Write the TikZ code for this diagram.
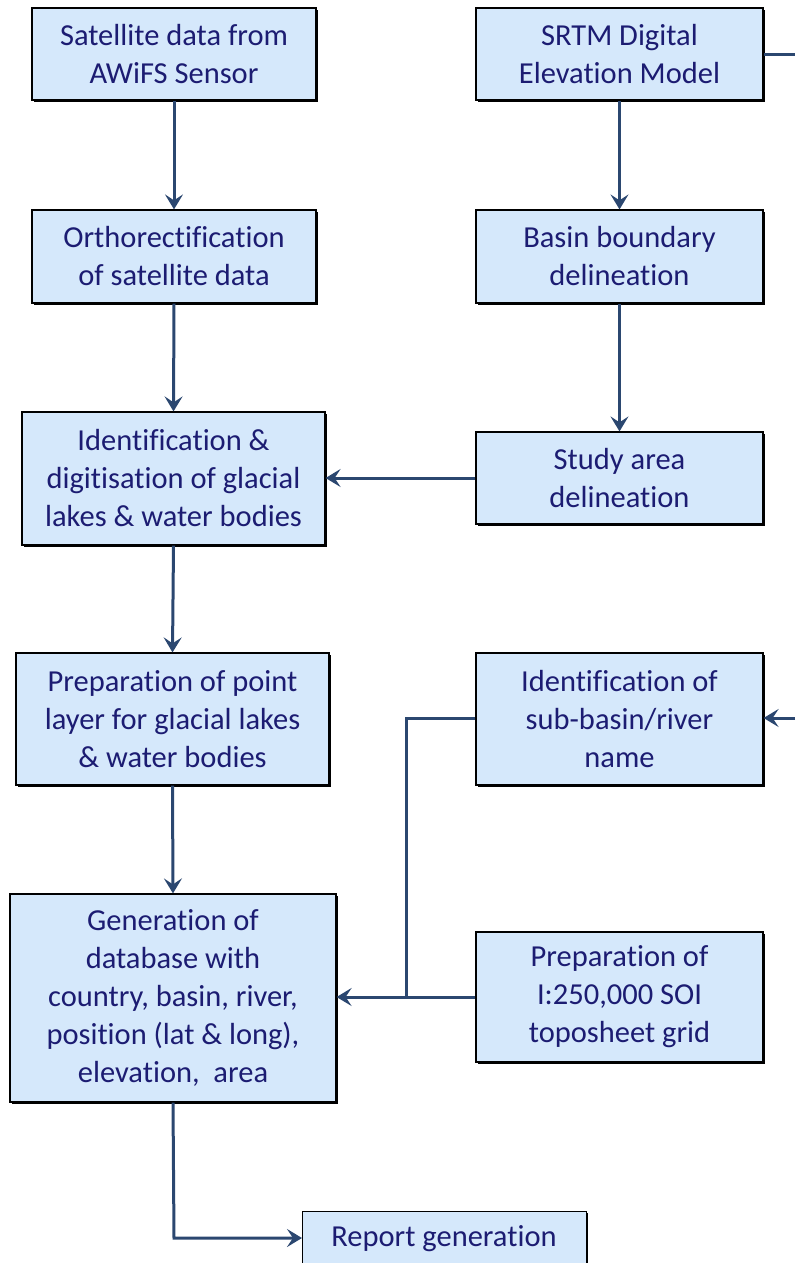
\documentclass[tikz,border=0pt]{standalone}
\usepackage{fontspec}
\setmainfont{Carlito}[Ligatures={NoCommon}]
\usetikzlibrary{arrows.meta,shadows}
\definecolor{boxfill}{HTML}{D5E8FB}
\definecolor{txt}{HTML}{1C1C72}
\definecolor{arr}{HTML}{2B4770}
\tikzset{
  box/.style={draw=black, line width=1.2pt, fill=boxfill, text=txt, align=center,
    inner sep=0pt, font=\fontsize{30.5}{38}\selectfont,
    drop shadow={shadow xshift=1.6pt, shadow yshift=-1.6pt, fill=black, opacity=1}},
  conn/.style={draw=arr, line width=3pt},
  arrw/.style={conn, -{Stealth[length=15pt,width=18pt,inset=6pt]}}
}
\newcommand{\boxat}[6]{% name, x1, y1, x2, y2, text
  \node[box, minimum width={#4-#2}, minimum height={#5-#3}] (#1) at ({(#2+#4)/2},{(#3+#5)/2}) {#6};}
\begin{document}
\begin{tikzpicture}[x=1pt,y=-1pt]
\useasboundingbox (0,0) rectangle (795,1263);
\begin{scope}
\clip (0,0) rectangle (795,1263);
\boxat{sat}{32}{8}{316}{100}{Satellite data from\\AWiFS Sensor}
\boxat{srtm}{476}{8}{763}{100}{SRTM Digital\\Elevation Model}
\boxat{ortho}{32}{210}{316}{303}{Orthorectification\\of satellite data}
\boxat{basin}{476}{210}{763}{303}{Basin boundary\\delineation}
\boxat{ident}{22}{412}{325}{545}{Identification \&\\digitisation of glacial\\lakes \& water bodies}
\boxat{study}{476}{432}{763}{524}{Study area\\delineation}
\boxat{point}{16}{653}{329}{785}{Preparation of point\\layer for glacial lakes\\\& water bodies}
\boxat{sub}{476}{653}{763}{785}{Identification of\\sub-basin/river\\name}
\boxat{gen}{10}{894}{336}{1102}{Generation of\\database with\\country, basin, river,\\position (lat \& long),\\elevation,\ \ area}
\boxat{topo}{476}{932}{763}{1062}{Preparation of\\I:250,000 SOI\\toposheet grid}
\node[box, minimum width=284, minimum height=80, anchor=north west] (rep) at (302,1211) {};
\node[text=txt, font=\fontsize{30.5}{38}\selectfont] (reptxt) at (444,1239) {Report generation};

\coordinate (e1) at (795,55);
\coordinate (e2) at (795,718);
\coordinate (j1) at (406,718);
\coordinate (j2) at (406,997);
\coordinate (b1) at (174,1238);

\draw[arrw] (sat.south) -- (ortho.north);
\draw[arrw] (ortho.south) -- (ident.north);
\draw[arrw] (ident.south) -- (point.north);
\draw[arrw] (point.south) -- (gen.north);
\draw[arrw] (srtm.south) -- (basin.north);
\draw[arrw] (basin.south) -- (study.north);
\draw[arrw] (study.west) -- (ident.east |- study.west);
\draw[conn] (srtm.east |- e1) -- (e1);
\draw[arrw] (e2) -- (sub.east |- e2);
\draw[conn] (sub.west |- j1) -- (j1) -- (j2);
\draw[arrw] (topo.west |- j2) -- (gen.east |- j2);
\draw[arrw] (gen.south) -- (b1) -- (rep.west |- b1);
\end{scope}
\end{tikzpicture}
\end{document}
